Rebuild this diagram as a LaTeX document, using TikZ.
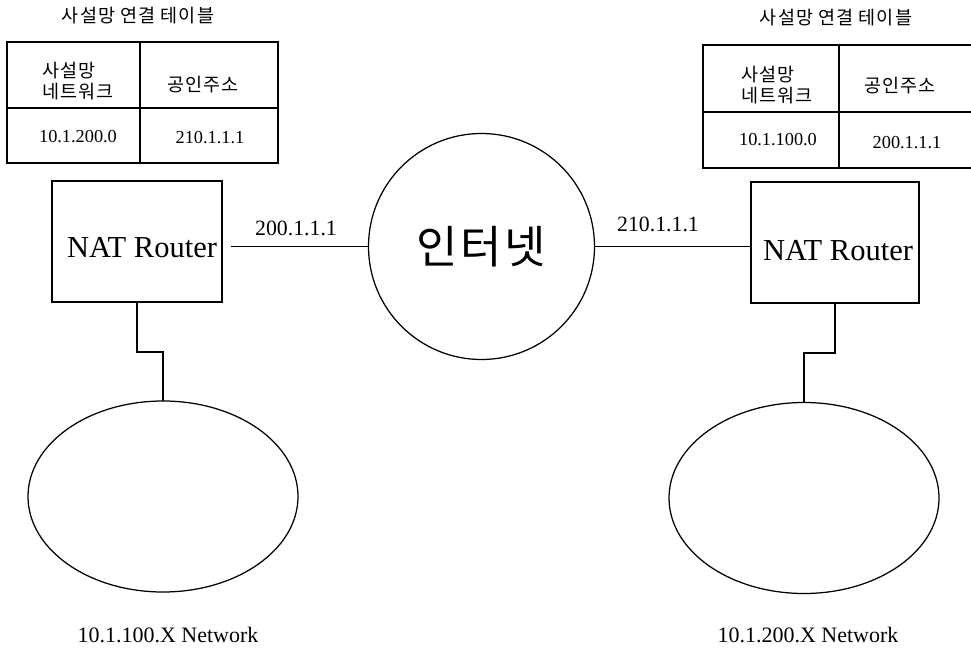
\documentclass[tikz,border=0pt]{standalone}
\usepackage{fontspec}
\setmainfont{Liberation Serif}
\newfontfamily\kr{Noto Sans CJK KR}
\newfontfamily\krsp[LetterSpace=6]{Noto Sans CJK KR}
\usetikzlibrary{shapes.geometric}
\tikzset{
  ln/.style={line width=1.25pt, draw=black},
  routerbox/.style={ln, rectangle, minimum width=170pt, minimum height=121pt, inner sep=0pt, outer sep=0pt},
  netell/.style={ln, ellipse, minimum width=270pt, minimum height=191pt, inner sep=0pt, outer sep=0pt},
  krtitle/.style={font=\krsp\fontsize{18.5}{20}\selectfont, inner sep=0pt},
  krcell/.style={font=\krsp\fontsize{18.5}{21}\selectfont, inner sep=0pt},
  numcell/.style={font=\fontsize{18.3}{20}\selectfont, inner sep=0pt},
  iplabel/.style={font=\fontsize{21.8}{24}\selectfont, inner sep=0pt},
  routertext/.style={font=\fontsize{30.5}{32}\selectfont, inner sep=0pt},
  netlabel/.style={font=\fontsize{22}{24}\selectfont, inner sep=0pt}
}
\begin{document}
\begin{tikzpicture}[x=1pt,y=-1pt]
\useasboundingbox (0,0) rectangle (971,650);

% left table
\node[krtitle] (tl) at (138,16) {사설망 연결 테이블};
\draw[ln] (7,42) rectangle (278,163);
\draw[ln] (140,42) -- (140,163);
\draw[ln] (7,108) -- (278,108);
\node[krcell, align=left, anchor=west] (tl11) at (42,81.5) {사설망\\네트워크};
\node[krcell] (tl12) at (203,85) {공인주소};
\node[numcell] (tl21) at (78,137) {10.1.200.0};
\node[numcell] (tl22) at (210,138) {210.1.1.1};

% right table
\node[krtitle] (tr) at (836,18) {사설망 연결 테이블};
\draw[ln] (971,45) -- (703,45) -- (703,168) -- (971,168);
\draw[ln] (839,45) -- (839,168);
\draw[ln] (703,112) -- (971,112);
\node[krcell, align=left, anchor=west] (tr11) at (741,85) {사설망\\네트워크};
\node[krcell] (tr12) at (900,86) {공인주소};
\node[numcell] (tr21) at (778,140) {10.1.100.0};
\node[numcell] (tr22) at (907,143) {200.1.1.1};

% routers
\node[routerbox] (rl) at (137,241.5) {};
\node[routertext] (rlt) at (142,248) {NAT Router};
\node[routerbox, minimum width=168pt] (rr) at (835,242.5) {};
\node[routertext] (rrt) at (838,251) {NAT Router};

% internet
\node[ln, circle, minimum size=226pt, inner sep=0pt, outer sep=0pt,
      font=\krsp\fontsize{45}{48}\selectfont] (net) at (481.5,246.5) {인터넷};

\draw[ln] ([xshift=9pt]rl.east |- net.west) -- (net.west);
\draw[ln] (net.east) -- (net.east -| rr.west);
\node[iplabel] (ipl) at (296,228) {200.1.1.1};
\node[iplabel] (ipr) at (658,224) {210.1.1.1};

% networks
\node[netell] (nl) at (163,496.5) {};
\node[netell] (nr) at (804,498) {};
\draw[ln] (rl.south) -- ++(0,50) -| (nl.north);
\draw[ln] (rr.south) -- ++(0,50) -| (nr.north);
\node[netlabel] (nll) at (168,635) {10.1.100.X Network};
\node[netlabel] (nrl) at (808,635) {10.1.200.X Network};
\end{tikzpicture}
\end{document}
